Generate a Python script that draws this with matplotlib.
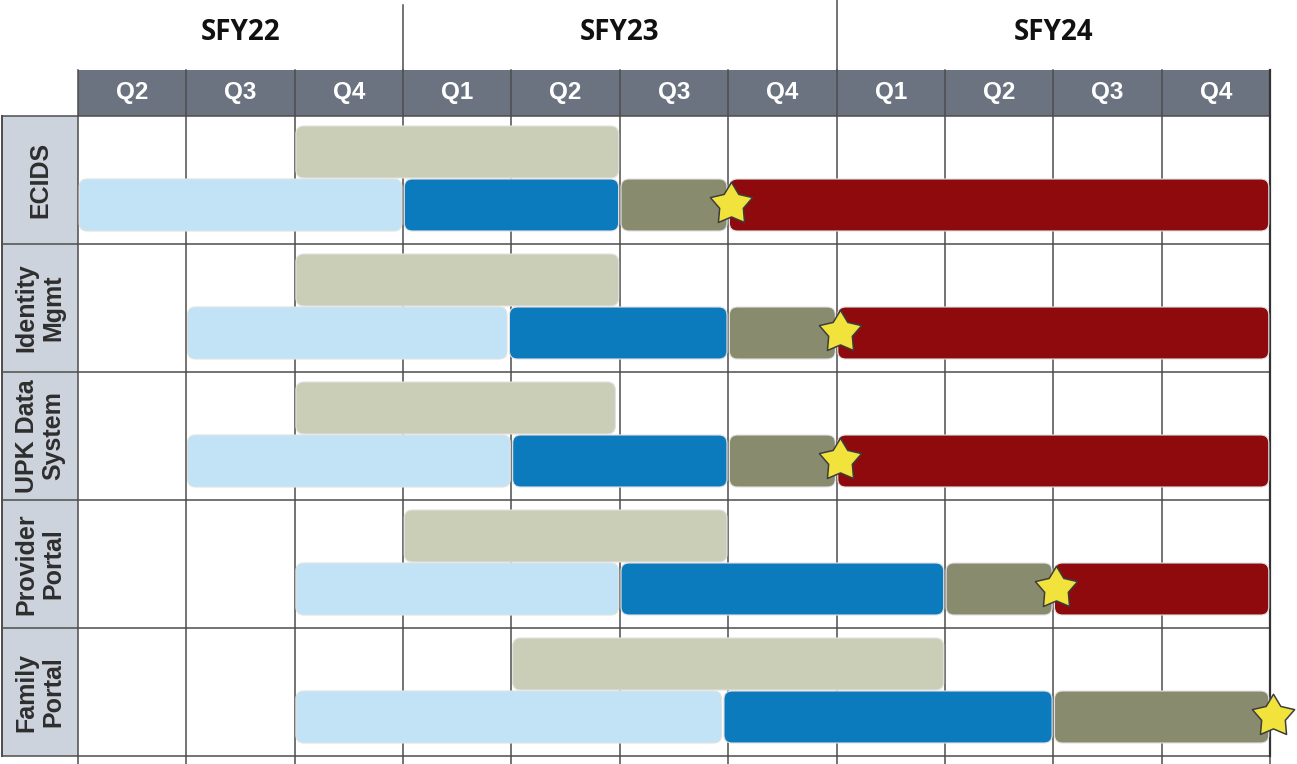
import matplotlib
matplotlib.use("Agg")
import matplotlib.pyplot as plt
from matplotlib.patches import FancyBboxPatch, Rectangle
from matplotlib.markers import MarkerStyle
from matplotlib.path import Path
import numpy as np

# ---------------- data ----------------
years = ["SFY22", "SFY23", "SFY24"]
year_spans = [(0, 3), (3, 7), (7, 11)]          # quarter index ranges
quarters = ["Q2", "Q3", "Q4", "Q1", "Q2", "Q3", "Q4", "Q1", "Q2", "Q3", "Q4"]
projects = ["ECIDS", "Identity\nMgmt", "UPK Data\nSystem", "Provider\nPortal", "Family\nPortal"]

planning  = [(2, 5), (2, 5), (2, 4.97), (3, 6), (4, 8)]        # tan (upper lane)
discovery = [(0, 3), (1, 3.97), (1, 4), (2, 5), (2, 5.95)]     # light blue
build     = [(3, 5), (3.97, 6), (4, 6), (5, 8), (5.95, 9)]     # blue
testing   = [(5, 6), (6, 7), (6, 7), (8, 9), (9, 11)]          # olive
operate   = [(6, 11), (7, 11), (7, 11), (9, 11), None]         # red
milestone = [6, 7, 7, 9, 11]

C_TAN, C_LBLUE, C_BLUE, C_OLIVE, C_RED = "#cbceb6", "#c2e3f5", "#0c7bbd", "#898b6f", "#8e0a0c"
C_HEAD, C_LABEL, C_GRID = "#6c7380", "#cdd3dc", "#4d4d4d"

# ---------------- figure ----------------
W, H = 1297, 764
fig = plt.figure(figsize=(W / 100, H / 100), dpi=100)
ax = fig.add_axes([0, 0, 1, 1])
QPX, RPX = 108.364, 128.0           # px per quarter, px per row
X0, Y0 = 78, 116
ax.set_xlim(-X0 / QPX, (W - X0) / QPX)
ax.set_ylim((H - Y0) / RPX, -Y0 / RPX)
ax.axis("off")
aspect = (1 / RPX) / (1 / QPX)
nq, nr = len(quarters), len(projects)

def px_x(p):
    return p / QPX
def px_y(p):
    return p / RPX

# header band
hb_top = -px_y(46)
ax.add_patch(Rectangle((0, hb_top), nq, -hb_top, facecolor=C_HEAD, edgecolor="none", zorder=1))
for i, q in enumerate(quarters):
    ax.text(i + 0.5, hb_top / 2, q, color="white", fontsize=17.5, fontweight="bold",
            ha="center", va="center", family="Liberation Sans", zorder=5)

# year labels + separators
for name, (a, b) in zip(years, year_spans):
    ax.text((a + b) / 2, -px_y(83), name, fontsize=20, fontweight="bold", color="#111111",
            ha="center", va="center", family="Open Sans", zorder=5)
for xv, ytop in [(3, -px_y(111)), (7, -px_y(116))]:
    ax.plot([xv, xv], [ytop, hb_top], color=C_GRID, lw=1.1, zorder=3)

# left label column
lx0 = -px_x(76)
ax.add_patch(Rectangle((lx0, 0), -lx0, nr, facecolor=C_LABEL, edgecolor="none", zorder=1))
for r, name in enumerate(projects):
    ax.text(lx0 / 2, r + 0.5, name, rotation=90, fontsize=18, fontweight="bold",
            color="#2e2e2e", ha="center", va="center", linespacing=1.15,
            family="Liberation Sans", zorder=5)

# grid lines
for i in range(nq + 1):
    ax.plot([i, i], [hb_top, nr + px_y(8)], color=C_GRID, lw=1.1, zorder=3)
for r in range(nr + 1):
    ax.plot([lx0, nq], [r, r], color=C_GRID, lw=1.1, zorder=3)
ax.plot([lx0, lx0], [0, nr], color=C_GRID, lw=1.4, zorder=3)
ax.plot([nq, nq], [hb_top, nr], color="#333333", lw=1.6, zorder=3)

# bars
rad = px_x(8)
gap = px_x(1.2)

def bar(seg, row, lane):
    if seg is None:
        return
    a, b = seg
    if lane == 0:
        y, h = row + px_y(10), px_y(52)
    else:
        y, h = row + px_y(63), px_y(52)
    p = FancyBboxPatch((a + gap, y), (b - a) - 2 * gap, h,
                       boxstyle=f"round,pad=0,rounding_size={rad}",
                       mutation_aspect=aspect, zorder=6)
    return p

for r in range(nr):
    for seg, col, lane in [(planning[r], C_TAN, 0), (discovery[r], C_LBLUE, 1),
                           (build[r], C_BLUE, 1), (testing[r], C_OLIVE, 1),
                           (operate[r], C_RED, 1)]:
        p = bar(seg, r, lane)
        if p is not None:
            p.set_facecolor(col)
            p.set_edgecolor("#e2e2e2")
            p.set_linewidth(0.8)
            ax.add_patch(p)

# stars (rounded-looking five-point star)
ang = np.linspace(np.pi / 2, np.pi / 2 + 2 * np.pi, 11)
rads = np.array([1.0 if k % 2 == 0 else 0.56 for k in range(11)])
star = np.column_stack([rads * np.cos(ang), rads * np.sin(ang)])
star_marker = MarkerStyle(Path(star, closed=True), joinstyle="round")
for r, m in enumerate(milestone):
    ax.plot([m + px_x(3)], [r + px_y(88)], marker=star_marker, markersize=32,
            markerfacecolor="#f1e33b", markeredgecolor="#3d3d3d", markeredgewidth=1.1,
            linestyle="none", zorder=8, clip_on=False)

fig.savefig("out.png", dpi=100, facecolor="white")
